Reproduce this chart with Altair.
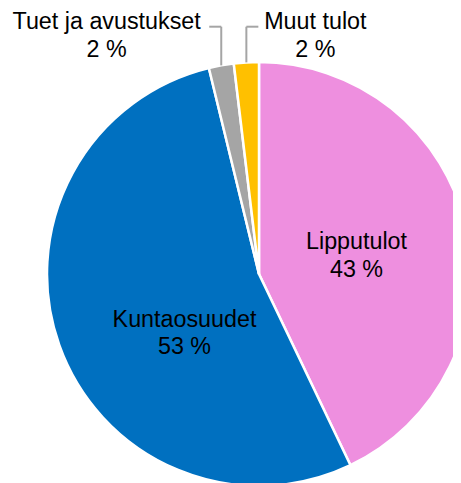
import altair as alt
import pandas as pd

# ---- data ----
categories = ["Lipputulot", "Kuntaosuudet", "Tuet ja avustukset", "Muut tulot"]
values = [42.9, 53.3, 1.9, 1.9]
order = [1, 2, 3, 4]
colors = ["#EE8FDF", "#0070C0", "#A5A5A5", "#FFC000"]

# ---- layout ----
W, H = 445, 475
CX, CY, R = 251, 266, 212
FONT = "Liberation Sans"
FS = 23.3
LH = 27.3
LEADER_Y = 18.7
# per label: radius of anchor, dx, dy (first-line baseline relative to anchor)
LABELS = {
    "Lipputulot": dict(r=100, dx=0, dy=-2.5),
    "Kuntaosuudet": dict(r=100, dx=19.7, dy=19.2),
    "Tuet ja avustukset": dict(r=R, dx=-114.6, dy=-36.1, lead=-12),
    "Muut tulot": dict(r=R, dx=69, dy=-33.1, lead=12),
}

df = pd.DataFrame({"category": categories, "value": values, "order": order})

base = alt.Chart(df).transform_window(
    cum="sum(value)", sort=[{"field": "order"}], frame=[None, 0]
).transform_joinaggregate(
    total="sum(value)"
).transform_calculate(
    ang="2*PI*(datum.cum - datum.value/2)/datum.total",
    label="[datum.category, format(datum.value, '.0f') + ' %']",
)

arcs = alt.Chart(df).mark_arc(outerRadius=R, stroke="white", strokeWidth=2.5).encode(
    theta=alt.Theta("value:Q", stack=True),
    order=alt.Order("order:Q"),
    color=alt.Color("category:N", scale=alt.Scale(domain=categories, range=colors), legend=None),
    x=alt.value(CX),
    y=alt.value(CY),
)

layers = [arcs]
for cat, p in LABELS.items():
    sub = base.transform_filter(alt.datum.category == cat).transform_calculate(
        ax=f"{CX} + {p['r']}*sin(datum.ang)",
        ay=f"{CY} - {p['r']}*cos(datum.ang)",
    ).transform_calculate(
        lx=f"datum.ax + {p['dx']}",
        ly=f"datum.ay + {p['dy']}",
    )
    txt = sub.mark_text(
        font=FONT, fontSize=FS, lineHeight=LH, color="black", align="center", baseline="alphabetic"
    ).encode(
        x=alt.X("lx:Q", scale=None, axis=None),
        y=alt.Y("ly:Q", scale=None, axis=None),
        text=alt.Text("label:N"),
    )
    layers.append(txt)
    if "lead" in p:
        lead = sub.transform_calculate(
            ly2=f"{LEADER_Y}", bx=f"datum.ax + {p['lead']}"
        )
        vr = lead.mark_rule(color="#A5A5A5", strokeWidth=2).encode(
            x=alt.X("ax:Q", scale=None, axis=None),
            y=alt.Y("ay:Q", scale=None, axis=None),
            y2=alt.Y2("ly2:Q"),
        )
        hr = lead.mark_rule(color="#A5A5A5", strokeWidth=2).encode(
            x=alt.X("ax:Q", scale=None, axis=None),
            x2=alt.X2("bx:Q"),
            y=alt.Y("ly2:Q", scale=None, axis=None),
        )
        layers += [vr, hr]

chart = alt.layer(*layers).properties(
    width=W, height=H, padding=0, autosize=alt.AutoSizeParams(type="none"), background="white"
).configure_view(stroke=None)

chart.save("out.html", embed_options={"renderer": "svg", "actions": False})
